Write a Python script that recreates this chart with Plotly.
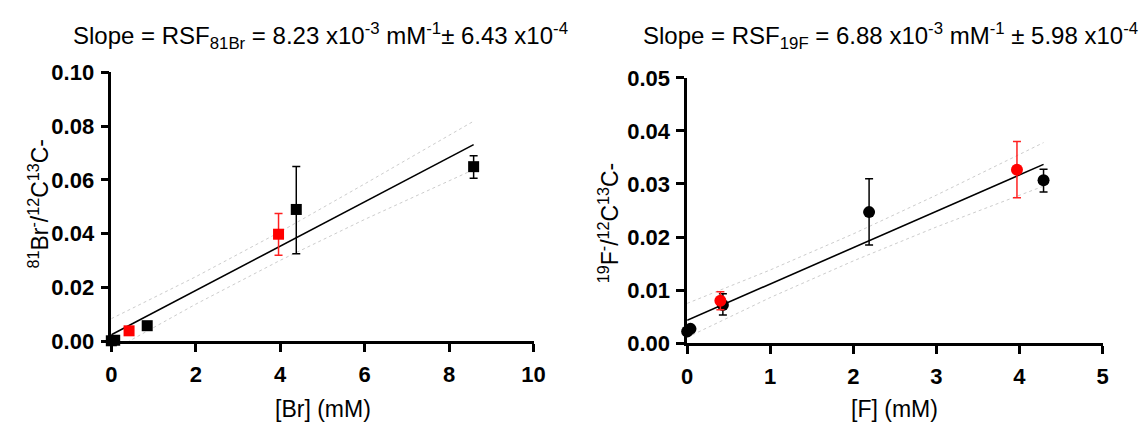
import plotly.graph_objects as go

W, H = 1148, 423

# ---------------- Left panel (Br) ----------------
br_black_x = [0.0, 0.08, 0.85, 4.38, 8.58]
br_black_y = [0.0002, 0.0004, 0.0058, 0.0490, 0.0649]
br_black_err_plus = [0.0, 0.0, 0.0, 0.0160, 0.0041]
br_black_err_minus = [0.0, 0.0, 0.0, 0.0165, 0.0043]
br_red_x = [0.42, 3.96]
br_red_y = [0.0039, 0.0398]
br_red_err_plus = [0.0, 0.0077]
br_red_err_minus = [0.0, 0.0078]

br_fit_x = [0.0, 8.58]
br_fit_y = [0.0024, 0.0731]
br_band_x = [0.0, 2.0, 4.0, 6.0, 8.58]
br_band_upper = [0.0084, 0.0240, 0.0407, 0.0585, 0.0818]
br_band_lower = [-0.0036, 0.0138, 0.0301, 0.0453, 0.0638]

br_xticks = [0, 2, 4, 6, 8, 10]
br_yticks = [0.00, 0.02, 0.04, 0.06, 0.08, 0.10]

# ---------------- Right panel (F) ----------------
f_black_x = [0.0, 0.04, 0.43, 2.19, 4.29]
f_black_y = [0.0022, 0.0027, 0.0072, 0.0247, 0.0307]
f_black_err_plus = [0.0, 0.0, 0.0021, 0.0063, 0.0021]
f_black_err_minus = [0.0, 0.0, 0.0019, 0.0062, 0.0022]
f_red_x = [0.40, 3.97]
f_red_y = [0.0080, 0.0327]
f_red_err_plus = [0.0017, 0.0053]
f_red_err_minus = [0.0017, 0.0053]

f_fit_x = [0.0, 4.29]
f_fit_y = [0.0043, 0.0337]
f_band_x = [0.0, 1.0, 2.0, 3.0, 4.29]
f_band_upper = [0.0075, 0.0138, 0.0206, 0.0279, 0.0378]
f_band_lower = [0.0011, 0.0086, 0.0155, 0.0219, 0.0296]

f_xticks = [0, 1, 2, 3, 4, 5]
f_yticks = [0.00, 0.01, 0.02, 0.03, 0.04, 0.05]

FONT = "Arial, Liberation Sans, Helvetica, sans-serif"

# pixel layout of plot areas
L = dict(x0=107, x1=536, ytop=64, ybot=350)
R = dict(x0=692, x1=1114, ytop=70, ybot=352)


def dom_x(p):
    return [p["x0"] / W, p["x1"] / W]


def dom_y(p):
    return [(H - p["ybot"]) / H, (H - p["ytop"]) / H]


fig = go.Figure()


def add_panel(xa, ya, bx, bu, bl, fx, fy, kx, ky, kep, kem, rx, ry, rep, rem, symbol, msize):
    band = dict(color="#cccccc", width=1, dash="dot")
    fig.add_trace(go.Scatter(x=bx, y=bu, mode="lines", line=band, xaxis=xa, yaxis=ya,
                             showlegend=False, hoverinfo="skip"))
    fig.add_trace(go.Scatter(x=bx, y=bl, mode="lines", line=band, xaxis=xa, yaxis=ya,
                             showlegend=False, hoverinfo="skip"))
    fig.add_trace(go.Scatter(x=fx, y=fy, mode="lines", line=dict(color="black", width=1.6),
                             xaxis=xa, yaxis=ya, showlegend=False))
    fig.add_trace(go.Scatter(
        x=kx, y=ky, mode="markers", xaxis=xa, yaxis=ya, showlegend=False, cliponaxis=False,
        marker=dict(symbol=symbol, size=msize, color="black"),
        error_y=dict(type="data", array=kep, arrayminus=kem, visible=True,
                     color="black", thickness=1.5, width=4)))
    fig.add_trace(go.Scatter(
        x=rx, y=ry, mode="markers", xaxis=xa, yaxis=ya, showlegend=False, cliponaxis=False,
        marker=dict(symbol=symbol, size=msize, color="#ff0000"),
        error_y=dict(type="data", array=rep, arrayminus=rem, visible=True,
                     color="#ff2020", thickness=1.5, width=4)))


add_panel("x", "y", br_band_x, br_band_upper, br_band_lower, br_fit_x, br_fit_y,
          br_black_x, br_black_y, br_black_err_plus, br_black_err_minus,
          br_red_x, br_red_y, br_red_err_plus, br_red_err_minus, "square", 11)
add_panel("x2", "y2", f_band_x, f_band_upper, f_band_lower, f_fit_x, f_fit_y,
          f_black_x, f_black_y, f_black_err_plus, f_black_err_minus,
          f_red_x, f_red_y, f_red_err_plus, f_red_err_minus, "circle", 12)

axis_common = dict(
    showline=True, linecolor="black", linewidth=2.5, ticks="outside", ticklen=8,
    tickwidth=2.5, tickcolor="black", showgrid=False, zeroline=False, mirror=False,
    tickfont=dict(family=FONT, size=22, color="black", weight="bold"),
)

fig.update_layout(
    width=W, height=H, margin=dict(l=0, r=0, t=0, b=0),
    paper_bgcolor="white", plot_bgcolor="white",
    xaxis=dict(domain=dom_x(L), range=[0, 10], tickvals=br_xticks,
               ticktext=[str(v) for v in br_xticks], anchor="y", ticklabelstandoff=4,
               **axis_common),
    yaxis=dict(domain=dom_y(L), range=[0, 0.10], tickvals=br_yticks,
               ticktext=[f"{v:.2f}" for v in br_yticks], anchor="x", ticklabelstandoff=2,
               **axis_common),
    xaxis2=dict(domain=dom_x(R), range=[0, 5], tickvals=f_xticks,
                ticktext=[str(v) for v in f_xticks], anchor="y2", ticklabelstandoff=4,
                **axis_common),
    yaxis2=dict(domain=dom_y(R), range=[0, 0.05], tickvals=f_yticks,
                ticktext=[f"{v:.2f}" for v in f_yticks], anchor="x2", ticklabelstandoff=2,
                **axis_common),
)

tfont = dict(family=FONT, size=24, color="black")
afont = dict(family=FONT, size=23, color="black")
ann = [
    dict(text="Slope = RSF<sub>81Br</sub> = 8.23 x10<sup>-3</sup> mM<sup>-1</sup>± 6.43 x10<sup>-4</sup>",
         x=320 / W, y=1 - 26 / H, font=tfont),
    dict(text="Slope = RSF<sub>19F</sub> = 6.88 x10<sup>-3</sup> mM<sup>-1</sup> ± 5.98 x10<sup>-4</sup>",
         x=899 / W, y=1 - 26 / H, font=tfont),
    dict(text="[Br] (mM)", x=322 / W, y=1 - 422 / H, font=afont),
    dict(text="[F] (mM)", x=903 / W, y=1 - 422 / H, font=afont),
    dict(text="<sup>81</sup>Br<sup>-</sup>/<sup>12</sup>C<sup>13</sup>C-", x=33 / W, y=1 - 204 / H,
         textangle=-90, font=afont),
    dict(text="<sup>19</sup>F<sup>-</sup>/<sup>12</sup>C<sup>13</sup>C-", x=612 / W, y=1 - 224 / H,
         textangle=-90, font=afont),
]
for a in ann:
    fig.add_annotation(xref="paper", yref="paper", showarrow=False,
                       xanchor="center", yanchor="middle", **a)

fig.write_html("out.html")
